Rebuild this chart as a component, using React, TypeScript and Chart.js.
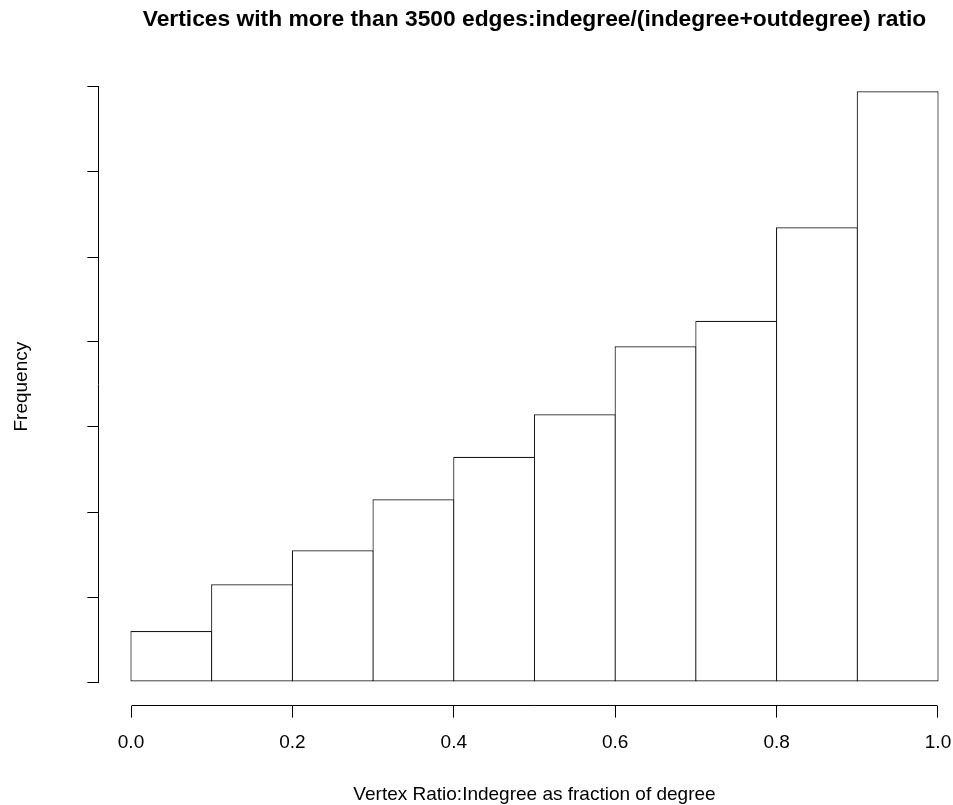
import React, { useEffect, useRef } from "react";
import { Chart, registerables } from "chart.js";

Chart.register(...registerables);

// ---- data ----
const binEdges = [0, 0.1, 0.2, 0.3, 0.4, 0.5, 0.6, 0.7, 0.8, 0.9, 1.0];
const frequencies = [12, 23, 31, 43, 53, 63, 79, 85, 107, 139];
const xTickValues = [0, 0.2, 0.4, 0.6, 0.8, 1.0];
const yTickValues = [0, 20, 40, 60, 80, 100, 120, 140];
const titleText = "Vertices with more than 3500 edges:indegree/(indegree+outdegree) ratio";
const xAxisTitle = "Vertex Ratio:Indegree as fraction of degree";
const yAxisTitle = "Frequency";

const FONT = '"Liberation Sans", Arial, Helvetica, sans-serif';
const BAR_LINE = 1.2;

const align = (v: number) => Math.round(v - 0.5) + 0.5;

const rAxesPlugin = {
  id: "rAxes",
  afterDraw(chart: any) {
    const { ctx, chartArea, scales } = chart;
    const x = scales.x;
    const y = scales.y;
    ctx.save();
    ctx.strokeStyle = "#000";
    ctx.lineWidth = 1;
    // x axis line (from first to last tick)
    const xb = align(chartArea.bottom);
    ctx.beginPath();
    ctx.moveTo(align(x.getPixelForValue(xTickValues[0])), xb);
    ctx.lineTo(align(x.getPixelForValue(xTickValues[xTickValues.length - 1])), xb);
    ctx.stroke();
    // y axis line
    const yl = align(chartArea.left);
    ctx.beginPath();
    ctx.moveTo(yl, align(y.getPixelForValue(yTickValues[0])));
    ctx.lineTo(yl, align(y.getPixelForValue(yTickValues[yTickValues.length - 1])));
    ctx.stroke();

    ctx.fillStyle = "#000";
    const cx = (chartArea.left + chartArea.right) / 2;
    const cy = (chartArea.top + chartArea.bottom) / 2;
    // main title
    ctx.font = `bold 22.8px ${FONT}`;
    ctx.textAlign = "center";
    ctx.textBaseline = "alphabetic";
    ctx.fillText(titleText, cx, 26);
    // x axis title
    ctx.font = `19px ${FONT}`;
    ctx.fillText(xAxisTitle, cx, 800);
    // y axis title
    ctx.save();
    ctx.translate(27, cy);
    ctx.rotate(-Math.PI / 2);
    ctx.fillText(yAxisTitle, 0, 0);
    ctx.restore();
    ctx.restore();
  },
};

export default function App() {
  const canvasRef = useRef<HTMLCanvasElement | null>(null);

  useEffect(() => {
    const canvas = canvasRef.current;
    if (!canvas) return;
    const maxF = Math.max(...frequencies);
    const span = binEdges[binEdges.length - 1] - binEdges[0];
    const xMin = binEdges[0] - 0.04 * span;
    const xMax = binEdges[binEdges.length - 1] + 0.04 * span;
    const yMin = -0.04 * maxF;
    const yMax = 1.04 * maxF;

    const chart = new Chart(canvas, {
      type: "bar",
      data: {
        datasets: [
          {
            label: yAxisTitle,
            data: frequencies.map((f, i) => ({ x: (binEdges[i] + binEdges[i + 1]) / 2, y: f })),
            backgroundColor: "#ffffff",
            borderColor: "#1a1a1a",
            borderWidth: BAR_LINE,
            borderSkipped: false,
            barPercentage: (80.7 + BAR_LINE) / 80.7,
            categoryPercentage: 1,
          } as any,
        ],
      },
      options: {
        animation: false,
        responsive: false,
        devicePixelRatio: 1,
        layout: { padding: { top: 67.62, left: 0, right: 19.72, bottom: 0 } },
        plugins: {
          legend: { display: false },
          title: { display: false },
          tooltip: { enabled: false },
        },
        scales: {
          x: {
            type: "linear",
            position: "bottom",
            min: xMin,
            max: xMax,
            offset: false,
            afterBuildTicks: (s: any) => {
              s.ticks = xTickValues.map((v) => ({ value: v }));
            },
            afterFit: (s: any) => {
              s.height = 805 - 705.63;
            },
            grid: {
              offset: false,
              drawOnChartArea: false,
              drawTicks: true,
              tickLength: 12,
              color: "#000",
              lineWidth: 1,
            },
            border: { display: false },
            ticks: {
              autoSkip: false,
              maxRotation: 0,
              minRotation: 0,
              padding: 14,
              color: "#000",
              font: { family: FONT, size: 19 },
              callback: (v: any) => Number(v).toFixed(1),
            },
          },
          y: {
            type: "linear",
            position: "left",
            min: yMin,
            max: yMax,
            afterBuildTicks: (s: any) => {
              s.ticks = yTickValues.map((v) => ({ value: v }));
            },
            afterFit: (s: any) => {
              s.width = 98.72;
            },
            grid: {
              drawOnChartArea: false,
              drawTicks: true,
              tickLength: 11.4,
              color: "#000",
              lineWidth: 1,
            },
            border: { display: false },
            ticks: { display: false },
          },
        },
      } as any,
      plugins: [rAxesPlugin],
    });
    return () => chart.destroy();
  }, []);

  return (
    <div
      style={{
        position: "absolute",
        left: 0,
        top: 0,
        width: 953,
        height: 805,
        overflow: "hidden",
        background: "#ffffff",
      }}
    >
      <canvas ref={canvasRef} width={990} height={805} style={{ display: "block" }} />
    </div>
  );
}
